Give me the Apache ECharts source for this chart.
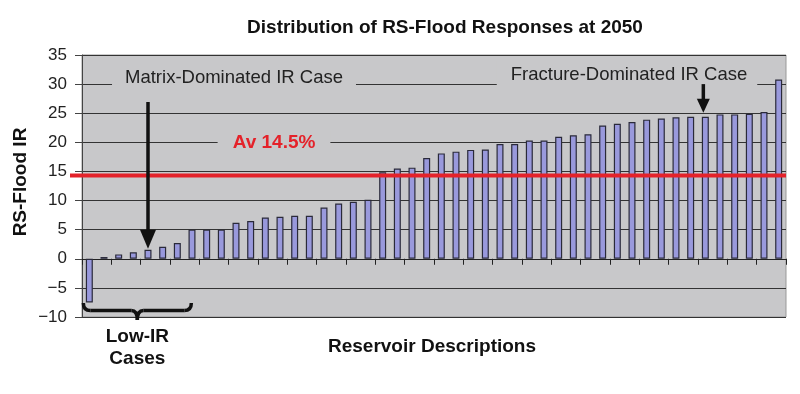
<!DOCTYPE html>
<html><head><meta charset="utf-8">
<script src="https://cdn.jsdelivr.net/npm/echarts@6/dist/echarts.min.js"></script>
<style>html,body{margin:0;padding:0;background:#fff}#c{width:800px;height:394px}</style>
</head><body><div id="c"></div>
<script>
const categories = ['1','2','3','4','5','6','7','8','9','10','11','12','13','14','15','16','17','18','19','20','21','22','23','24','25','26','27','28','29','30','31','32','33','34','35','36','37','38','39','40','41','42','43','44','45','46','47','48'];
const irValues = [-7.5, 0.3, 0.75, 1.1, 1.55, 2.05, 2.7, 5.0, 5.0, 5.0, 6.2, 6.5, 7.1, 7.2, 7.4, 7.4, 8.8, 9.5, 9.8, 10.15,
  14.85, 15.5, 15.65, 17.3, 18.1, 18.4, 18.7, 18.75, 19.7, 19.7, 20.3, 20.3, 20.95, 21.2, 21.4, 22.9, 23.2, 23.5, 23.9, 24.1,
  24.3, 24.4, 24.4, 24.8, 24.8, 24.9, 25.2, 30.8];
const yMin = -10, yMax = 35, yInterval = 5;
const averageIR = 14.3;
const averageLabel = 'Av 14.5%';
const matrixCaseIndex = 4;
const fractureCaseIndex = 42;
const lowIRLastIndex = 6;
const titleText = 'Distribution of RS-Flood Responses at 2050';
const yName = 'RS-Flood IR';
const xName = 'Reservoir Descriptions';
const matrixText = 'Matrix-Dominated IR Case';
const fractureText = 'Fracture-Dominated IR Case';
const lowIRText = ['Low-IR', 'Cases'];

const FONT = '"Liberation Sans", Arial, sans-serif';
const BG = '#c8c8ca';
const chart = echarts.init(document.getElementById('c'), null, {renderer: 'canvas'});
chart.setOption({
  animation: false,
  backgroundColor: '#fff',
  grid: {left: 82, right: 14, top: 55, bottom: 77, show: true, backgroundColor: BG, borderColor: '#999', borderWidth: 1},
  xAxis: {
    type: 'category', data: categories, boundaryGap: true,
    axisLine: {onZero: true, lineStyle: {color: '#222', width: 1}},
    axisTick: {show: true, length: 6, lineStyle: {color: '#222'}},
    axisLabel: {show: false}, splitLine: {show: false}
  },
  yAxis: {
    type: 'value', min: yMin, max: yMax, interval: yInterval,
    axisLine: {show: true, lineStyle: {color: '#444'}},
    axisTick: {show: true, length: 7, lineStyle: {color: '#444'}},
    axisLabel: {margin: 15, fontSize: 17, color: '#222', fontFamily: FONT,
      formatter: v => String(v).replace('-', '\u2212')},
    splitLine: {show: true, lineStyle: {color: '#333', width: 1}}
  },
  series: [{
    type: 'bar', data: irValues, barWidth: 7,
    itemStyle: {color: '#9999dc', borderColor: '#2a2a3a', borderWidth: 1.2}
  }]
});

const px = (i, v) => chart.convertToPixel({xAxisIndex: 0, yAxisIndex: 0}, [i, v]);
const avgY = px(0, averageIR)[1];
const m = px(matrixCaseIndex, irValues[matrixCaseIndex]);
const f = px(fractureCaseIndex, irValues[fractureCaseIndex]);
const y30 = px(0, 30)[1];
const lowL = px(0, 0)[0] - 6, lowR = px(lowIRLastIndex, 0)[0] + 14;
const lowC = (lowL + lowR) / 2;

function arrow(x, y0, y1, hh, hw, lw) {
  return [
    {type: 'line', z: 110, shape: {x1: x, y1: y0, x2: x, y2: y1 - hh + 2}, style: {stroke: '#111', lineWidth: lw}},
    {type: 'polygon', z: 110, shape: {points: [[x - hw, y1 - hh], [x + hw, y1 - hh], [x, y1]]}, style: {fill: '#111'}}
  ];
}
const braceStyle = {stroke: '#111', lineWidth: 3.5, fill: null};
const yb = 310.5, yt = 303, yp = 320;
const brace = [
  {type: 'bezierCurve', z: 110, shape: {x1: lowL, y1: yt, cpx1: lowL, cpy1: yb, x2: lowL + 7, y2: yb}, style: braceStyle},
  {type: 'line', z: 110, shape: {x1: lowL + 7, y1: yb, x2: lowC - 6, y2: yb}, style: braceStyle},
  {type: 'bezierCurve', z: 110, shape: {x1: lowC - 6, y1: yb, cpx1: lowC, cpy1: yb, x2: lowC, y2: yp}, style: braceStyle},
  {type: 'bezierCurve', z: 110, shape: {x1: lowC, y1: yp, cpx1: lowC, cpy1: yb, x2: lowC + 6, y2: yb}, style: braceStyle},
  {type: 'line', z: 110, shape: {x1: lowC + 6, y1: yb, x2: lowR - 7, y2: yb}, style: braceStyle},
  {type: 'bezierCurve', z: 110, shape: {x1: lowR - 7, y1: yb, cpx1: lowR, cpy1: yb, x2: lowR, y2: yt}, style: braceStyle}
];

const g = [
  {type: 'text', z: 100, x: 445, y: 28, style: {text: titleText, font: 'bold 19px ' + FONT, fill: '#111', align: 'center', verticalAlign: 'middle'}},
  {type: 'text', z: 100, x: 21, y: 182, rotation: Math.PI / 2, style: {text: yName, font: 'bold 19px ' + FONT, fill: '#111', align: 'center', verticalAlign: 'middle'}},
  {type: 'text', z: 100, x: 432, y: 347, style: {text: xName, font: 'bold 19px ' + FONT, fill: '#111', align: 'center', verticalAlign: 'middle'}},
  {type: 'text', z: 100, x: lowC, y: 337, style: {text: lowIRText[0], font: 'bold 19px ' + FONT, fill: '#111', align: 'center', verticalAlign: 'middle'}},
  {type: 'text', z: 100, x: lowC, y: 359, style: {text: lowIRText[1], font: 'bold 19px ' + FONT, fill: '#111', align: 'center', verticalAlign: 'middle'}},
  {type: 'text', z: 100, x: 234, y: 78, style: {text: matrixText, font: '18.5px ' + FONT, fill: '#222', align: 'center', verticalAlign: 'middle', backgroundColor: BG, padding: [3, 13, 4, 13]}},
  {type: 'text', z: 100, x: 627, y: 75, style: {text: fractureText, font: '18.5px ' + FONT, fill: '#222', align: 'center', verticalAlign: 'middle', backgroundColor: BG, padding: [3, 10, 7, 14]}},
  {type: 'text', z: 100, x: 274, y: 142.5, style: {text: averageLabel, font: 'bold 19px ' + FONT, fill: '#e4222a', align: 'center', verticalAlign: 'middle', backgroundColor: BG, padding: [2, 15, 2, 15]}},
  {type: 'line', z: 105, shape: {x1: 70, y1: avgY, x2: 786, y2: avgY}, style: {stroke: '#e4222a', lineWidth: 4}},
  ...brace,
  ...arrow(m[0], 102, m[1] - 1, 19, 8, 3.5),
  ...arrow(f[0] - 2, y30, f[1] - 4, 14, 6.5, 3.5)
];
chart.setOption({graphic: g});
</script></body></html>
